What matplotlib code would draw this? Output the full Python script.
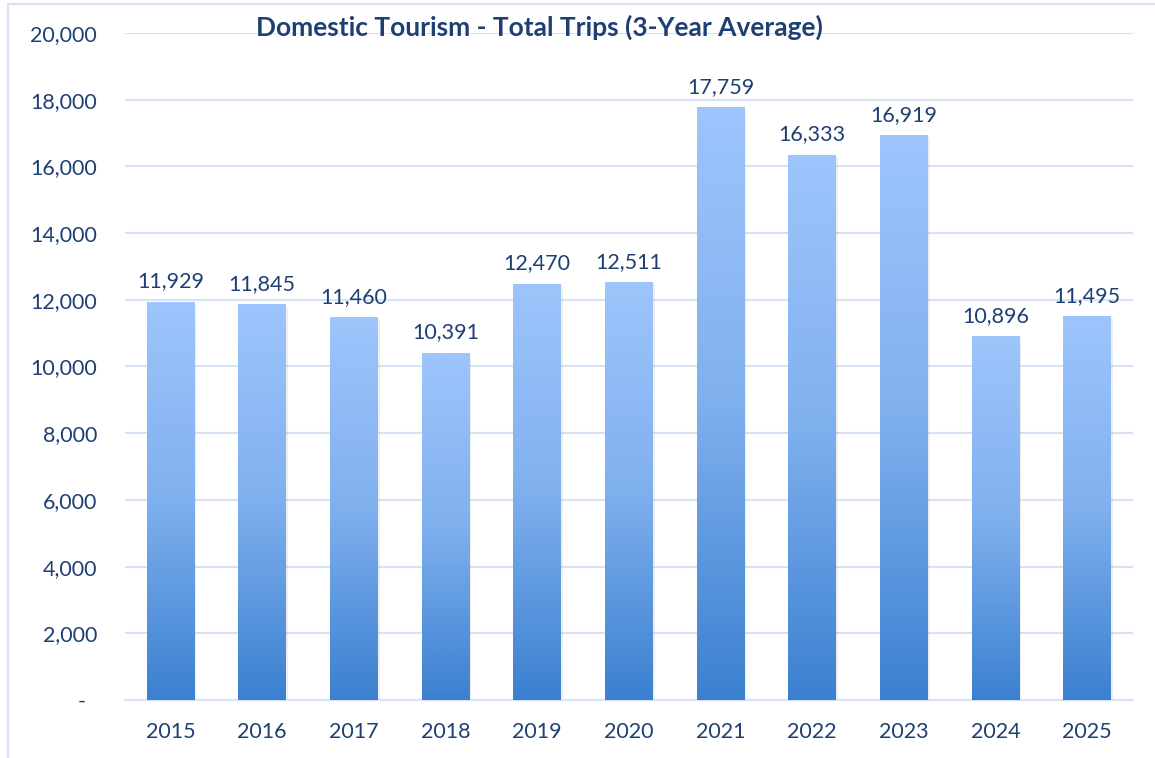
import matplotlib.pyplot as plt
import numpy as np
from matplotlib.colors import LinearSegmentedColormap
from matplotlib.patches import Rectangle

plt.rcParams['font.family'] = ['Lato', 'DejaVu Sans']

years = ['2015', '2016', '2017', '2018', '2019', '2020', '2021', '2022', '2023', '2024', '2025']
trips = [11929, 11845, 11460, 10391, 12470, 12511, 17759, 16333, 16919, 10896, 11495]

text_color = '#1F3F73'
grid_color = '#D6E3F4'

fig = plt.figure(figsize=(11.55, 7.58), dpi=100)
ax = fig.add_axes([0.108, 0.0765, 0.873, 0.88])

# gradient: dark blue at bottom, light at top
cmap = LinearSegmentedColormap.from_list('bars', ['#3B80D0', '#7FB0EE', '#9EC5FC'])
grad = np.linspace(0, 1, 256).reshape(-1, 1)

bar_width = 0.52
x = np.arange(len(years))
for i, v in enumerate(trips):
    # soft shadow
    ax.add_patch(Rectangle((x[i] - bar_width / 2 + 0.02, 0), bar_width, v - 50,
                           color='#808080', alpha=0.12, zorder=2, lw=0))
    ax.imshow(grad, cmap=cmap, aspect='auto', origin='lower',
              extent=(x[i] - bar_width / 2, x[i] + bar_width / 2, 0, v), zorder=3)
    ax.text(x[i], v + 330, f"{v:,}", ha='center', va='bottom', fontsize=15.5, color=text_color)

ax.set_xlim(-0.5, len(years) - 0.5)
ax.set_ylim(0, 20000)
ax.set_yticks(np.arange(0, 20001, 2000))
# excel accounting style: zero shown as a dash
ax.set_yticklabels(['-  '] + [f"{t:,}" for t in range(2000, 20001, 2000)])
ax.set_xticks(x)
ax.set_xticklabels(years)
ax.tick_params(axis='both', length=0, labelsize=15.5, colors=text_color)
ax.tick_params(axis='y', pad=20)
ax.tick_params(axis='x', pad=16)

ax.grid(axis='y', color=grid_color, linewidth=1.5, zorder=0)
ax.set_axisbelow(True)
for s in ['top', 'right', 'left']:
    ax.spines[s].set_visible(False)
ax.spines['bottom'].set_color(grid_color)
ax.spines['bottom'].set_linewidth(1.5)

fig.text(0.467, 0.964, 'Domestic Tourism - Total Trips (3-Year Average)', ha='center', va='center',
         fontsize=19, fontweight='bold', color=text_color)

# outer chart border
fig.patches.append(Rectangle((0.007, -0.01), 1.0, 1.005, transform=fig.transFigure,
                             fill=False, edgecolor=grid_color, linewidth=1.5))

fig.savefig('out.png', dpi=100)
